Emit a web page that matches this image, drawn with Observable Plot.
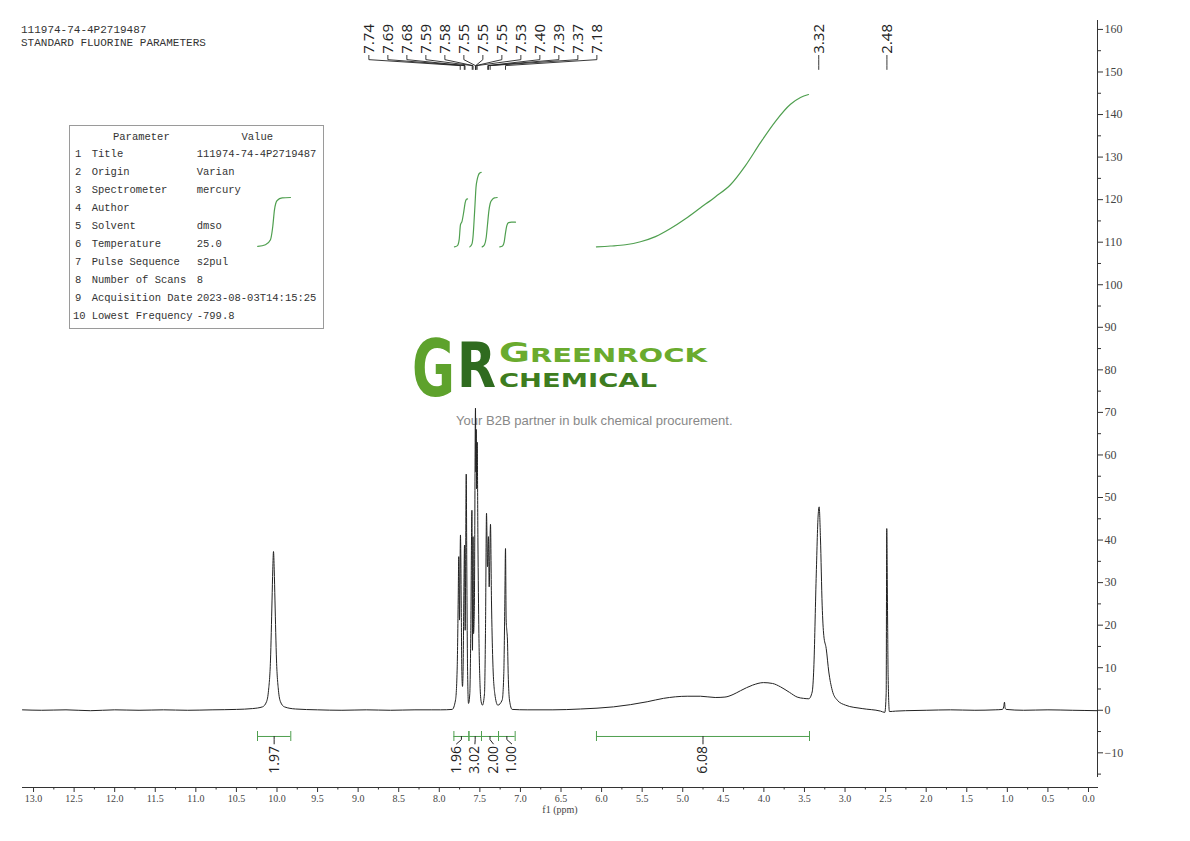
<!DOCTYPE html>
<html><head><meta charset="utf-8">
<script src="https://cdn.jsdelivr.net/npm/d3@7"></script>
<script src="https://cdn.jsdelivr.net/npm/@observablehq/plot@0.6"></script>
<style>
body{margin:0;background:#fff;}
#wrap{position:relative;width:1190px;height:841px;overflow:hidden;background:#fff;}
#overlay,#chart{position:absolute;left:0;top:0;}
#chart g[aria-label="x-axis tick label"]{font-family:"Liberation Serif",serif;font-size:10px;fill:#444;}
#chart g[aria-label="y-axis tick label"]{font-family:"Liberation Serif",serif;font-size:12px;fill:#444;}
</style></head>
<body>
<div id="wrap"><svg id="overlay" width="1190" height="841"></svg><div id="chart"></div></div>
<script>
// ---------- data ----------
const headerLines = ["111974-74-4P2719487", "STANDARD FLUORINE PARAMETERS"];
const paramNames = ["Title","Origin","Spectrometer","Author","Solvent","Temperature","Pulse Sequence","Number of Scans","Acquisition Date","Lowest Frequency"];
const paramValues = ["111974-74-4P2719487","Varian","mercury","","dmso","25.0","s2pul","8","2023-08-03T14:15:25","-799.8"];

// spectrum trace [ppm, intensity]
const baselineLeft = [[13.136,0.1],[12.9,0.0],[12.6,0.1],[12.3,-0.1],[12.0,0.1],[11.7,0.0],[11.4,0.1],[11.1,0.0],[10.8,0.1],[10.5,0.2],[10.3,0.4]];
const peak1004 = [[10.179,0.8],[10.129,2.0],[10.104,4.7],[10.080,11.8],[10.061,25.9],[10.052,33.0],[10.043,37.3],[10.034,33.0],[10.025,25.9],[10.006,11.8],[9.982,4.7],[9.957,2.0],[9.908,0.8],[9.772,0.3]];
const baselineMid = [[9.5,0.1],[9.2,0.0],[8.9,0.1],[8.6,0.0],[8.3,0.1],[8.1,0.1]];
const aromatic = [[7.985,0.1],[7.841,0.2],[7.800,2.4],[7.779,10.2],[7.767,25.9],[7.760,36.1],[7.751,21.2],[7.739,41.2],[7.730,25.9],[7.723,10.2],[7.714,5.6],[7.706,10.2],[7.698,25.9],[7.689,38.8],[7.681,18.8],[7.668,55.5],[7.661,33.7],[7.652,10.2],[7.640,1.6],[7.624,3.9],[7.612,18.0],[7.598,47.0],[7.591,14.1],[7.584,40.8],[7.578,18.0],[7.568,24.0],[7.554,71.0],[7.549,56.0],[7.545,66.0],[7.540,52.0],[7.533,63.0],[7.524,40.0],[7.512,18.0],[7.498,6.0],[7.484,2.0],[7.468,1.2],[7.443,3.9],[7.431,18.0],[7.418,46.3],[7.406,33.7],[7.394,40.8],[7.385,29.0],[7.369,43.7],[7.357,25.9],[7.341,11.8],[7.316,3.9],[7.279,1.2],[7.225,2.4],[7.205,8.6],[7.193,24.3],[7.184,38.0],[7.176,21.2],[7.168,18.8],[7.160,16.5],[7.151,8.6],[7.135,2.4],[7.102,0.2],[6.917,0.1]];
const broadRegion = [[6.6,0.1],[6.26,0.3],[5.853,0.8],[5.438,2.0],[5.237,2.8],[4.945,3.3],[4.781,3.3],[4.600,3.0],[4.480,3.1],[4.380,3.7],[4.288,4.6],[4.140,5.9],[4.005,6.5],[3.894,6.3],[3.795,5.5],[3.684,4.2],[3.590,3.1],[3.512,2.8],[3.447,2.7],[3.405,4.3],[3.385,9.9],[3.356,31.0],[3.331,45.9],[3.319,47.8],[3.303,40.5],[3.282,24.7],[3.262,17.6],[3.232,14.5],[3.200,9.0],[3.158,4.7],[3.097,2.4],[2.994,1.2],[2.789,0.4],[2.563,-0.2],[2.510,-0.5],[2.493,4.0],[2.486,42.7],[2.481,34.0],[2.475,20.0],[2.469,8.0],[2.453,-0.3],[2.378,-0.2],[2.255,-0.1]];
const baselineRight = [[2.0,0.0],[1.7,0.1],[1.4,0.0],[1.15,0.1],[1.06,0.2],[1.045,0.8],[1.035,1.9],[1.028,0.6],[1.015,0.2],[0.8,0.0],[0.5,0.1],[0.2,0.0],[-0.111,-0.1]];

// integral curves [ppm, value]
const integral1 = [[10.237,109.0],[10.142,109.4],[10.080,110.6],[10.052,113.7],[10.031,117.6],[9.998,119.8],[9.936,120.4],[9.834,120.5]];
const integral2 = [[7.813,108.9],[7.776,109.2],[7.755,110.6],[7.739,114.1],[7.720,114.9],[7.698,117.2],[7.681,119.3],[7.665,120.1],[7.652,120.2]];
const integral3 = [[7.624,108.9],[7.597,109.6],[7.582,111.8],[7.572,114.8],[7.560,118.8],[7.548,122.8],[7.533,124.7],[7.521,125.6],[7.505,126.2],[7.484,126.4]];
const integral4 = [[7.471,108.9],[7.443,109.4],[7.422,111.1],[7.406,114.1],[7.390,117.2],[7.373,119.1],[7.348,120.0],[7.320,120.4],[7.287,120.5]];
const integral5 = [[7.254,108.9],[7.221,109.1],[7.200,110.1],[7.184,112.2],[7.168,113.9],[7.147,114.6],[7.110,114.7],[7.061,114.7]];
const integral6 = [[6.063,108.9],[5.890,109.1],[5.706,109.4],[5.521,110.1],[5.336,111.3],[5.151,113.2],[4.966,115.5],[4.781,118.1],[4.596,120.7],[4.412,123.5],[4.227,128.0],[4.042,133.4],[3.857,138.4],[3.672,142.4],[3.549,144.0],[3.450,144.7]];

// integration ranges
const intFrom = [10.24, 7.82, 7.635, 7.48, 7.27, 6.063];
const intTo   = [9.83, 7.635, 7.48, 7.27, 7.065, 3.438];
const intLabels = ["1.97","1.96","3.02","2.00","1.00","6.08"];

// picked peaks (ppm)
const peakPpm = [7.742,7.692,7.683,7.594,7.584,7.554,7.551,7.548,7.534,7.403,7.393,7.373,7.184,3.324,2.484];

// axes
const xMajor = d3.range(0, 26.5).map(i => i * 0.5);
const xMinor = d3.range(0, 26).map(i => i * 0.5 + 0.25);
const yMajor = d3.range(-1, 17).map(i => i * 10);
const yMinor = d3.range(-2, 16).map(i => i * 10 + 5);

// ---------- layout ----------
const W = 1190, H = 841, mL = 22, mR = 93, mT = 18, mB = 54;
const xDomain = [13.136, -0.111];
const yDomain = [-15.8, 162.1];
const yRange = [777, 20];
const green = "#4f9f4f", ink = "#222";
const xpx = d3.scaleLinear().domain(xDomain).range([mL, W - mR]);

function spread(px, gap, spacing) {
  const groups = []; let g = [0];
  for (let i = 1; i < px.length; i++) { if (px[i] - px[i-1] < gap) g.push(i); else { groups.push(g); g = [i]; } }
  groups.push(g);
  const out = new Array(px.length);
  for (const grp of groups) {
    const c = (px[grp[0]] + px[grp[grp.length-1]]) / 2;
    grp.forEach((idx, k) => out[idx] = c + (k - (grp.length-1)/2) * spacing);
  }
  return out;
}

const spectrum = [...baselineLeft, ...peak1004, ...baselineMid, ...aromatic, ...broadRegion, ...baselineRight];
const integralCurves = [integral1, integral2, integral3, integral4, integral5, integral6]
  .flatMap((pts, id) => pts.map(p => ({id, ppm: p[0], v: p[1]})));

const integrals = intFrom.map((f, i) => ({from: f, to: intTo[i], label: intLabels[i], mid: (f + intTo[i]) / 2}));
const intLabelPx = spread(integrals.map(d => xpx(d.mid)), 25, 18.4);
integrals.forEach((d, i) => d.lab = xpx.invert(intLabelPx[i]));
const barY = -6.16, tickHi = -4.99, tickLo = -7.34;
const intEnds = integrals.flatMap(d => [d.from, d.to]);
const intConnectors = integrals.flatMap((d, i) => [
  {id: i, x: d.mid, y: barY}, {id: i, x: d.mid, y: -6.9}, {id: i, x: d.lab, y: -7.9}
]);

const peaks = peakPpm.map(p => ({ppm: p, text: p.toFixed(2)}));
const peakLabelPx = spread(peaks.map(d => xpx(d.ppm)), 19, 19);
peaks.forEach((d, i) => d.lab = xpx.invert(peakLabelPx[i]));
const peakConnectors = peaks.flatMap((d, i) => [
  {id: i, x: d.lab, y: 153.9}, {id: i, x: d.lab, y: 152.9}, {id: i, x: d.ppm, y: 151.5}, {id: i, x: d.ppm, y: 150.6}
]);

// ---------- overlay: header, parameter table, logo ----------
const ov = d3.select("#overlay");
const mono = "'Liberation Mono', monospace";
function txt(s, x, y, size, opts = {}) {
  const t = ov.append("text").attr("font-size", size)
    .attr("font-family", opts.family || mono).attr("fill", opts.fill || "#333").text(s);
  if (opts.weight) t.attr("font-weight", opts.weight);
  if (opts.width) {
    const natural = t.node().getComputedTextLength();
    t.attr("transform", `translate(${x},${y}) scale(${opts.width / natural},1)`);
  } else {
    t.attr("x", x).attr("y", y);
  }
  return t;
}
headerLines.forEach((s, i) => txt(s, 21, 32.5 + i * 13.8, 11));
ov.append("rect").attr("x", 69.5).attr("y", 125.5).attr("width", 254).attr("height", 203)
  .attr("fill", "none").attr("stroke", "#9a9a9a").attr("stroke-width", 1);
txt("Parameter", 113, 139.5, 10.5);
txt("Value", 241.5, 139.5, 10.5);
paramNames.forEach((n, i) => {
  const y = 153.5 + i * 17.95 + 3.8;
  txt(String(i + 1), 75 - (i === 9 ? 2 : 0), y, 10.5);
  txt(n, 91.7, y, 10.5);
  txt(paramValues[i], 196.7, y, 10.5);
});
const logoFont = "'DejaVu Sans', sans-serif";
txt("G", 412, 396, 78, {family: logoFont, weight: "bold", fill: "#5ea22c", width: 43});
txt("R", 457, 387, 62, {family: logoFont, weight: "bold", fill: "#2f6b1f", width: 39});
const gn = ov.append("text").attr("font-family", logoFont).attr("font-weight", "bold").attr("fill", "#6aab2e");
gn.append("tspan").attr("font-size", 26).text("G");
gn.append("tspan").attr("font-size", 20).text("REENROCK");
gn.attr("transform", `translate(499,361.5) scale(${208 / gn.node().getComputedTextLength()},1)`);
txt("CHEMICAL", 499, 386.5, 19, {family: logoFont, weight: "bold", fill: "#3e7d20", width: 158});
txt("Your B2B partner in bulk chemical procurement.", 456, 425, 13, {family: "'Liberation Sans', sans-serif", fill: "#888", width: 277});

// ---------- chart ----------
const chart = Plot.plot({
  width: W, height: H,
  marginLeft: mL, marginRight: mR, marginTop: mT, marginBottom: mB,
  x: {domain: xDomain},
  y: {domain: yDomain, range: yRange},
  style: {background: "transparent", color: "#333", overflow: "visible"},
  marks: [
    Plot.frame({anchor: "bottom", stroke: "#333"}),
    Plot.ruleX([xDomain[1]], {y1: () => yDomain[0], y2: () => yDomain[1], stroke: "#333"}),
    Plot.axisX({anchor: "bottom", ticks: xMajor, tickFormat: d => d.toFixed(1), tickSize: 5, tickPadding: 2, label: null}),
    Plot.axisX({anchor: "bottom", ticks: xMinor, tickFormat: () => "", tickSize: 2.5, label: null}),
    Plot.axisY({anchor: "right", ticks: yMajor, tickSize: 5, tickPadding: 2, label: null}),
    Plot.axisY({anchor: "right", ticks: yMinor, tickSize: 3, tickFormat: () => "", label: null}),
    Plot.text(["f1 (ppm)"], {frameAnchor: "bottom", dy: 25, fontSize: 10, fontFamily: "'Liberation Serif', serif", fill: "#444"}),
    Plot.line(integralCurves, {x: "ppm", y: "v", z: "id", stroke: green, strokeWidth: 1.2, curve: "monotone-x"}),
    Plot.ruleY(integrals, {y: () => barY, x1: "from", x2: "to", stroke: green, strokeWidth: 1}),
    Plot.ruleX(intEnds, {x: d => d, y1: () => tickHi, y2: () => tickLo, stroke: green, strokeWidth: 1}),
    Plot.line(intConnectors, {x: "x", y: "y", z: "id", stroke: ink, strokeWidth: 1}),
    Plot.text(integrals, {x: "lab", y: () => -8.4, text: "label", rotate: -90, textAnchor: "end", lineAnchor: "middle", fontSize: 14, fontFamily: "'Open Sans', sans-serif", fill: ink}),
    Plot.line(peakConnectors, {x: "x", y: "y", z: "id", stroke: ink, strokeWidth: 0.9}),
    Plot.text(peaks, {x: "lab", y: () => 154.3, text: "text", rotate: -90, textAnchor: "start", lineAnchor: "middle", fontSize: 15, fontFamily: "'Open Sans', sans-serif", fill: ink}),
    Plot.line(spectrum, {x: d => d[0], y: d => d[1], stroke: ink, strokeWidth: 1, curve: "monotone-x"})
  ]
});
document.getElementById("chart").appendChild(chart);
</script>
</body></html>
